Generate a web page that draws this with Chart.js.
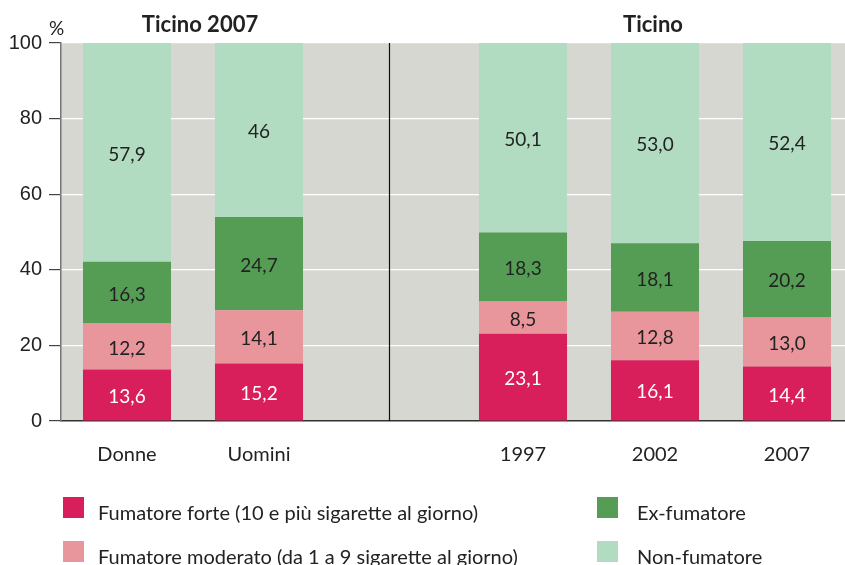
<!DOCTYPE html>
<html>
<head>
<meta charset="utf-8">
<script src="https://cdn.jsdelivr.net/npm/chart.js@4.4.1/dist/chart.umd.min.js"></script>
<style>
  html, body { margin: 0; padding: 0; background: #fff; overflow: hidden; }
  #wrap { position: relative; width: 853px; height: 565px; }
  #legend { position: absolute; left: 0; top: 0; width: 845px; height: 565px; pointer-events: none;
            font-family: Lato, "Open Sans", sans-serif; font-size: 20px; color: #222; }
  .sw { position: absolute; width: 21px; height: 21px; }
  .tx { position: absolute; line-height: 20px; white-space: nowrap; }
</style>
</head>
<body>
<div id="wrap">
  <canvas id="barChart" width="853" height="565"></canvas>
  <div id="legend">
    <span class="sw" style="left:63px; top:497px; background:#d81e5b"></span>
    <span class="tx" style="left:98px; top:502px;">Fumatore forte (10 e più sigarette al giorno)</span>
    <span class="sw" style="left:63px; top:541px; background:#e8959b"></span>
    <span class="tx" style="left:98px; top:546px;">Fumatore moderato (da 1 a 9 sigarette al giorno)</span>
    <span class="sw" style="left:597px; top:497px; background:#559d55"></span>
    <span class="tx" style="left:637px; top:502px;">Ex-fumatore</span>
    <span class="sw" style="left:597px; top:541px; background:#b2dcc1"></span>
    <span class="tx" style="left:637px; top:546px;">Non-fumatore</span>
  </div>
</div>
<script>
// categories (empty slot in the middle is where the divider sits)
var categories = ['Donne', 'Uomini', '', '1997', '2002', '2007'];

var forte     = [13.6, 15.2, null, 23.1, 16.1, 14.4];
var moderato  = [12.2, 14.1, null, 8.5, 12.8, 13.0];
var exFum     = [16.3, 24.7, null, 18.3, 18.1, 20.2];
var nonFum    = [57.9, 46, null, 50.1, 53.0, 52.4];

var forteTxt    = ['13,6', '15,2', '', '23,1', '16,1', '14,4'];
var moderatoTxt = ['12,2', '14,1', '', '8,5', '12,8', '13,0'];
var exFumTxt    = ['16,3', '24,7', '', '18,3', '18,1', '20,2'];
var nonFumTxt   = ['57,9', '46', '', '50,1', '53,0', '52,4'];

var yTicks = [0, 20, 40, 60, 80, 100];

var gillFont = 'Lato, "Open Sans", sans-serif';

var labelTexts = [forteTxt, moderatoTxt, exFumTxt, nonFumTxt];
var labelColors = ['#ffffff', '#222222', '#222222', '#222222'];

var decoPlugin = {
    id: 'deco',
    beforeDraw: function (chart) {
        var ctx = chart.ctx, a = chart.chartArea;
        ctx.save();
        ctx.fillStyle = '#d7d7d2';
        ctx.fillRect(a.left, a.top, a.right - a.left, a.bottom - a.top);
        ctx.restore();
    },
    afterDatasetsDraw: function (chart) {
        var ctx = chart.ctx, a = chart.chartArea;
        var xs = chart.scales.x;
        ctx.save();
        // divider
        var dx = Math.round(xs.getPixelForValue(2)) - 1.5;
        ctx.strokeStyle = '#111';
        ctx.lineWidth = 1.2;
        ctx.beginPath();
        ctx.moveTo(dx, a.top);
        ctx.lineTo(dx, a.bottom);
        ctx.stroke();

        // values inside segments
        ctx.font = '19px ' + gillFont;
        ctx.textAlign = 'center';
        ctx.textBaseline = 'middle';
        chart.data.datasets.forEach(function (ds, i) {
            var meta = chart.getDatasetMeta(i);
            meta.data.forEach(function (bar, j) {
                var t = labelTexts[i][j];
                if (!t) return;
                ctx.fillStyle = labelColors[i];
                ctx.fillText(t, bar.x, (bar.y + bar.base) / 2 + 2);
            });
        });

        // group titles
        ctx.fillStyle = '#222';
        ctx.font = 'bold 22px ' + gillFont;
        ctx.textBaseline = 'alphabetic';
        var t1 = (xs.getPixelForValue(0) + xs.getPixelForValue(1)) / 2;
        ctx.fillText('Ticino 2007', t1 + 7, 32);
        ctx.fillText('Ticino', xs.getPixelForValue(4) - 2, 32);

        // unit
        ctx.font = '19px ' + gillFont;
        ctx.textAlign = 'left';
        ctx.fillText('%', 49, 35);
        ctx.restore();
    }
};

function mk(label, data, color) {
    return {
        label: label,
        data: data,
        backgroundColor: color,
        borderWidth: 0,
        barPercentage: 0.667,
        categoryPercentage: 1
    };
}

var ctx = document.getElementById('barChart').getContext('2d');
var myChart = new Chart(ctx, {
    type: 'bar',
    data: {
        labels: categories,
        datasets: [
            mk('Fumatore forte (10 e più sigarette al giorno)', forte, '#d81e5b'),
            mk('Fumatore moderato (da 1 a 9 sigarette al giorno)', moderato, '#e8959b'),
            mk('Ex-fumatore', exFum, '#559d55'),
            mk('Non-fumatore', nonFum, '#b2dcc1')
        ]
    },
    options: {
        responsive: false,
        animation: false,
        layout: { padding: { top: 43, left: 0, right: 0, bottom: 94 } },
        plugins: { legend: { display: false }, tooltip: { enabled: false } },
        scales: {
            x: {
                stacked: true,
                grid: { display: false, drawTicks: false },
                border: { display: true, color: '#333', width: 1.5 },
                ticks: { color: '#222', padding: 22, font: { family: gillFont, size: 20 } },
                afterFit: function (s) { s.height = 50; }
            },
            y: {
                stacked: true,
                min: 0, max: 100,
                afterBuildTicks: function (s) { s.ticks = yTicks.map(function (v) { return { value: v }; }); },
                grid: { color: '#ffffff', lineWidth: 1.2, tickLength: 12, tickColor: '#444', drawTicks: true },
                border: { display: true, color: '#777', width: 1.5 },
                ticks: { color: '#222', padding: 7, font: { family: '"Liberation Sans", Arial, sans-serif', size: 20 } },
                afterFit: function (s) { s.width = 61; }
            }
        }
    },
    plugins: [decoPlugin]
});
</script>
</body>
</html>
